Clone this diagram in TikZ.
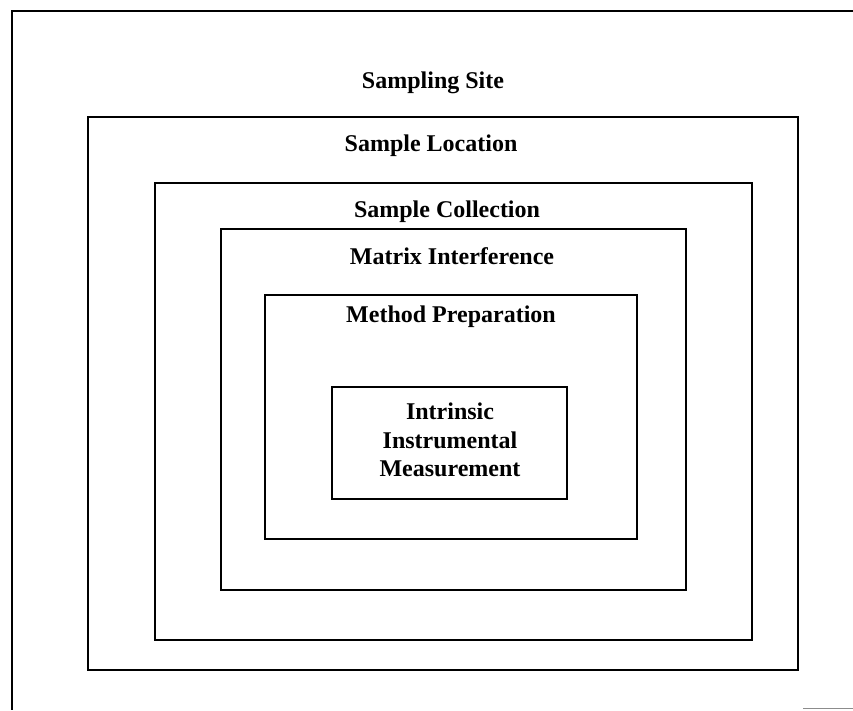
\documentclass[tikz,border=0pt]{standalone}
\usepackage{fontspec}
\setmainfont{Liberation Serif}
\begin{document}
\begin{tikzpicture}[x=1pt,y=-1pt,
  frame/.style={draw=black, line width=2pt, inner sep=0pt, minimum width=#1},
  lbl/.style={font=\fontsize{24}{28.5}\selectfont\bfseries, inner sep=0pt, anchor=base},
  ]
\useasboundingbox (0,0) rectangle (853,710);
% outer frame (only top and left edges inside the page)
\coordinate (otl) at (12,11);
\coordinate (otr) at (853,11);
\coordinate (obl) at (12,710);
\draw[line width=2pt] (otr) -- (otl) -- (obl);
\coordinate (ob1) at (803,708.5);
\coordinate (ob2) at (853,708.5);
\draw[line width=1.2pt, black!45] (ob1) -- (ob2);
% nested boxes
\node[frame=710pt, minimum height=553pt] (loc) at (443,393.5) {};
\node[frame=597pt, minimum height=457pt] (col) at (453,411.5) {};
\node[frame=465pt, minimum height=361pt] (mat) at (453.5,409.5) {};
\node[frame=372pt, minimum height=244pt] (met) at (451,417) {};
\node[frame=235pt, minimum height=112pt] (ins) at (449.5,443) {};
% labels
\node[lbl] (tsite) at (433,88) {Sampling Site};
\node[lbl] (tloc) at (431,151) {Sample Location};
\node[lbl] (tcol) at (447,217) {Sample Collection};
\node[lbl] (tmat) at (452,264) {Matrix Interference};
\node[lbl] (tmet) at (451,322) {Method Preparation};
\node[font=\fontsize{24}{28.5}\selectfont\bfseries, inner sep=0pt, align=center] (tins) at (450,440) {Intrinsic\\Instrumental\\Measurement};
\end{tikzpicture}
\end{document}
